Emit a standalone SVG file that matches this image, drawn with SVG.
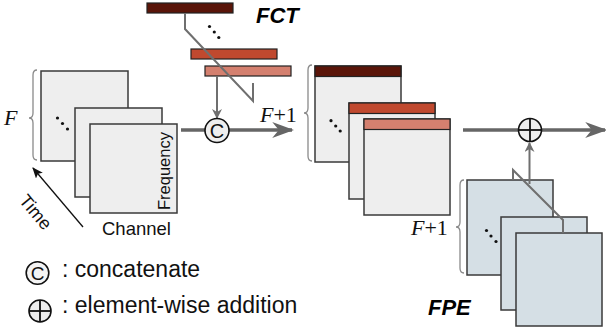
<svg xmlns="http://www.w3.org/2000/svg" width="606" height="333" viewBox="0 0 606 333">
<defs>
<style>
.frame{fill:#eeeeee;stroke:#3a3a3a;stroke-width:1.5}
.fpe{fill:#d5dfe5;stroke:#3a3a3a;stroke-width:1.5}
.bar{stroke:#222;stroke-width:1.2}
.c1{fill:#5a1509}.c2{fill:#c0492f}.c3{fill:#d4806f}
.brace{fill:none;stroke:#8a8a8a;stroke-width:1.3}
.conn{fill:none;stroke:#6f6f6f;stroke-width:2}
.thick{fill:none;stroke:#666;stroke-width:3.5}
.dot{fill:#111}
.sans{font-family:"Liberation Sans",Arial,sans-serif;fill:#111}
.serif{font-family:"Liberation Serif","Times New Roman",serif;fill:#111}
.title{font-family:"Liberation Sans",Arial,sans-serif;font-weight:bold;font-style:italic;font-size:22px;fill:#000}
.op{fill:#eeeeee;stroke:#111;stroke-width:1.6}
</style>
<marker id="ah" viewBox="0 0 10 10" refX="9" refY="5" markerWidth="10" markerHeight="10" markerUnits="userSpaceOnUse" orient="auto">
<path d="M0,0 L10,5 L0,10 L3,5 Z" fill="#6f6f6f"/>
</marker>
<marker id="ahb" viewBox="0 0 10 10" refX="9" refY="5" markerWidth="22" markerHeight="16" markerUnits="userSpaceOnUse" orient="auto" preserveAspectRatio="none">
<path d="M0,0 L10,5 L0,10 L3,5 Z" fill="#666"/>
</marker>
<marker id="ahk" viewBox="0 0 10 10" refX="9" refY="5" markerWidth="11" markerHeight="9" markerUnits="userSpaceOnUse" orient="auto" preserveAspectRatio="none">
<path d="M0,0 L10,5 L0,10 L2,5 Z" fill="#111"/>
</marker>
</defs>

<g id="input-stack">
<path class="brace" d="M37,70 Q33,70 33,75 L33,113 Q33,118 29,118 Q33,118 33,123 L33,155 Q33,160 37,160"/>
<text class="serif" x="4" y="125" font-size="22" font-style="italic">F</text>
<rect class="frame" x="41" y="71" width="87" height="90"/>
<circle class="dot" cx="57.5" cy="118" r="1.6"/>
<circle class="dot" cx="62.5" cy="123.5" r="1.6"/>
<circle class="dot" cx="67.5" cy="129" r="1.6"/>
<rect class="frame" x="75" y="108" width="87" height="89"/>
<rect class="frame" x="90" y="124" width="87" height="89"/>
<text class="sans" transform="translate(170,210) rotate(-90)" font-size="16.5">Frequency</text>
<text class="sans" x="102" y="235" font-size="18.5">Channel</text>
<text class="sans" transform="translate(31,216) rotate(50)" font-size="18" text-anchor="middle">Time</text>
</g>

<g id="fct">
<rect class="bar c1" x="147" y="3" width="86" height="10"/>
<rect class="bar c2" x="191" y="49" width="86" height="10"/>
<rect class="bar c3" x="205" y="66" width="86" height="10"/>
<circle class="dot" cx="209.5" cy="26.5" r="1.6"/>
<circle class="dot" cx="214.3" cy="32" r="1.6"/>
<circle class="dot" cx="218.8" cy="37.5" r="1.6"/>
<text class="title" x="256" y="23">FCT</text>
</g>

<g id="concat-stack">
<path class="brace" d="M312,65 Q308,65 308,70 L308,108 Q308,113 304,113 Q308,113 308,118 L308,156 Q308,161 312,161"/>
<text class="serif" x="260" y="122" font-size="22"><tspan font-style="italic">F</tspan>+1</text>
<rect class="frame" x="315" y="66" width="86" height="96"/>
<rect class="bar c1" x="315" y="66" width="86" height="10.5"/>
<circle class="dot" cx="331" cy="120.7" r="1.6"/>
<circle class="dot" cx="335.7" cy="126" r="1.6"/>
<circle class="dot" cx="340.2" cy="131" r="1.6"/>
<rect class="frame" x="349" y="103" width="86" height="96"/>
<rect class="bar c2" x="349" y="103" width="86" height="10.5"/>
<rect class="frame" x="364" y="119" width="86" height="96"/>
<rect class="bar c3" x="364" y="119" width="86" height="10.5"/>
</g>

<g id="fpe">
<path class="brace" d="M464,180 Q460,180 460,185 L460,222 Q460,227 456,227 Q460,227 460,232 L460,268 Q460,273 464,273"/>
<text class="serif" x="411" y="235" font-size="22"><tspan font-style="italic">F</tspan>+1</text>
<rect class="fpe" x="467" y="180" width="86" height="95"/>
<circle class="dot" cx="486.5" cy="230.5" r="1.6"/>
<circle class="dot" cx="491" cy="236" r="1.6"/>
<circle class="dot" cx="496" cy="241.5" r="1.6"/>
<rect class="fpe" x="501" y="217" width="86" height="93"/>
<rect class="fpe" x="516" y="233" width="86" height="93"/>
<text class="title" x="428" y="315">FPE</text>
</g>

<g id="connectors">
<path class="conn" d="M185,13 V29 L253,101 V83"/>
<path class="conn" d="M513,180 V170 L563,220 V233"/>
<line class="conn" x1="217" y1="76" x2="217" y2="118" marker-end="url(#ah)"/>
<line class="thick" x1="181" y1="130" x2="292" y2="130" marker-end="url(#ahb)"/>
<line class="thick" x1="463" y1="130" x2="605" y2="130" marker-end="url(#ahb)"/>
<line class="conn" x1="529.5" y1="184" x2="529.5" y2="143" marker-end="url(#ah)"/>
<line x1="83" y1="227" x2="33" y2="168" stroke="#111" stroke-width="1.3" marker-end="url(#ahk)"/>
</g>

<g id="concat-op">
<circle class="op" cx="217" cy="130.5" r="12"/>
<text class="sans" x="217" y="137.5" font-size="20" text-anchor="middle">C</text>
</g>

<g id="add-op">
<circle class="op" cx="530" cy="130" r="11.5"/>
<line x1="518.5" y1="130" x2="541.5" y2="130" stroke="#111" stroke-width="1.8"/>
<line x1="530" y1="118.5" x2="530" y2="141.5" stroke="#111" stroke-width="1.8"/>
</g>

<g id="legend">
<circle cx="37.5" cy="273" r="11.3" fill="#f4f4f4" stroke="#111" stroke-width="1.6"/>
<text class="sans" x="37.5" y="280" font-size="19" text-anchor="middle">C</text>
<text class="sans" x="62" y="277" font-size="23">: concatenate</text>
<circle cx="40" cy="311" r="11" fill="#eeeeee" stroke="#111" stroke-width="1.6"/>
<line x1="29" y1="311" x2="51" y2="311" stroke="#111" stroke-width="1.8"/>
<line x1="40" y1="300" x2="40" y2="322" stroke="#111" stroke-width="1.8"/>
<text class="sans" x="62" y="313" font-size="23">: element-wise addition</text>
</g>
</svg>
